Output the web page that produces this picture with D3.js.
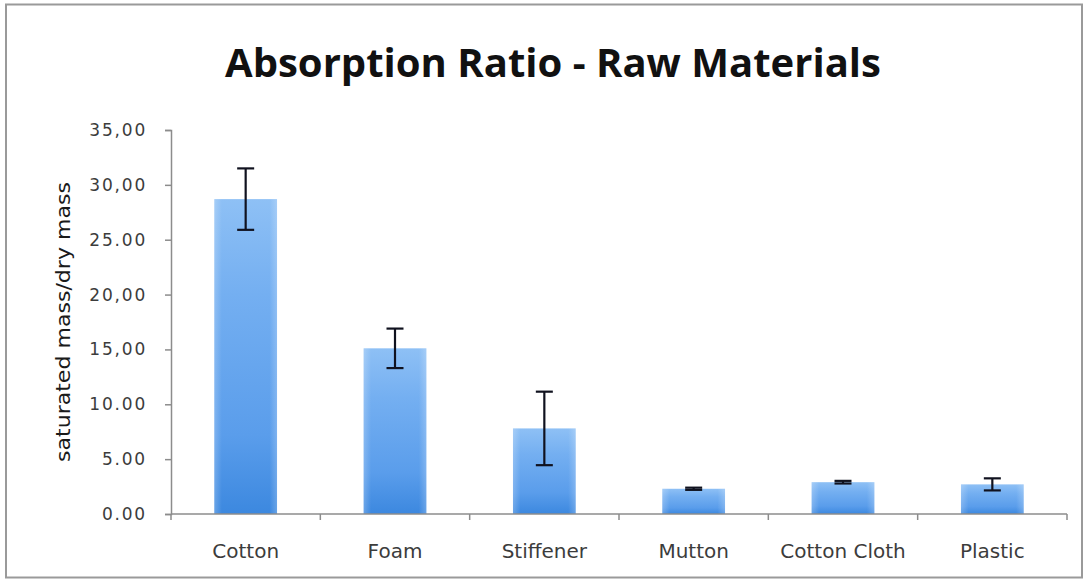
<!DOCTYPE html>
<html><head><meta charset="utf-8">
<script src="https://cdn.jsdelivr.net/npm/d3@7"></script>
<style>html,body{margin:0;padding:0;background:#fff;}svg{display:block;}</style>
</head><body>
<script>
const categories = ["Cotton", "Foam", "Stiffener", "Mutton", "Cotton Cloth", "Plastic"];
const values = [28.7, 15.1, 7.8, 2.3, 2.9, 2.7];
const errors = [2.8, 1.8, 3.35, 0.1, 0.12, 0.55];
const tickValues = [0, 5, 10, 15, 20, 25, 30, 35];
const tickLabels = ["0.00", "5.00", "10.00", "15,00", "20,00", "25.00", "30,00", "35,00"];
const titleText = "Absorption Ratio - Raw Materials";
const yTitle = "saturated mass/dry mass";

const W = 1089, H = 580;
const svg = d3.select("body").append("svg").attr("width", W).attr("height", H);

const defs = svg.append("defs");
const g1 = defs.append("linearGradient").attr("id", "barV").attr("x1", 0).attr("y1", 0).attr("x2", 0).attr("y2", 1);
[[0, "#8ec0f5"], [0.3, "#74aff1"], [0.75, "#5a9deb"], [1, "#3c88df"]].forEach(([o, c]) =>
  g1.append("stop").attr("offset", o).attr("stop-color", c));
const g2 = defs.append("linearGradient").attr("id", "barH").attr("x1", 0).attr("y1", 0).attr("x2", 1).attr("y2", 0);
[[0, 0.22], [0.12, 0.0], [0.88, 0.0], [1, 0.22]].forEach(([o, a]) =>
  g2.append("stop").attr("offset", o).attr("stop-color", "#ffffff").attr("stop-opacity", a));

// outer border
svg.append("rect").attr("x", 6).attr("y", 4.5).attr("width", 1076).attr("height", 573)
  .attr("fill", "#fff").attr("stroke", "#9a9a9a").attr("stroke-width", 2);

const x0 = 171, x1 = 1067, yb = 514, yt = 130;
const x = d3.scaleBand().domain(categories).range([x0, x1]).paddingInner(0.58).paddingOuter(0.29);
const y = d3.scaleLinear().domain([0, 35]).range([yb, yt]);

// title
svg.append("text").attr("x", 553).attr("y", 77).attr("text-anchor", "middle")
  .attr("font-family", "Open Sans, sans-serif").attr("font-weight", 700).attr("font-size", 40)
  .attr("fill", "#111").attr("textLength", 656).attr("lengthAdjust", "spacingAndGlyphs")
  .text(titleText);

// bars
const bars = svg.append("g");
bars.selectAll("rect.b").data(categories).join("rect").attr("class", "b")
  .attr("x", d => x(d)).attr("width", x.bandwidth())
  .attr("y", (d, i) => y(values[i])).attr("height", (d, i) => yb - y(values[i]))
  .attr("fill", "url(#barV)");
bars.selectAll("rect.h").data(categories).join("rect").attr("class", "h")
  .attr("x", d => x(d)).attr("width", x.bandwidth())
  .attr("y", (d, i) => y(values[i])).attr("height", (d, i) => yb - y(values[i]))
  .attr("fill", "url(#barH)");

// y axis
const yAxis = d3.axisLeft(y).tickValues(tickValues).tickSize(6).tickPadding(18)
  .tickFormat((d, i) => tickLabels[i]);
const ya = svg.append("g").attr("transform", `translate(${x0},0)`).call(yAxis);
ya.select(".domain").attr("stroke", "#8c8c8c").attr("stroke-width", 1.5);
ya.selectAll(".tick line").attr("stroke", "#8c8c8c").attr("stroke-width", 1.5);
ya.selectAll(".tick text").attr("font-family", "DejaVu Sans, sans-serif").attr("font-size", 17)
  .attr("letter-spacing", 1.8).attr("fill", "#3c3c3c");

// x axis line and ticks at category boundaries
const step = x.step();
const bounds = d3.range(categories.length + 1).map(i => x0 + i * step);
svg.append("line").attr("x1", x0).attr("x2", x1).attr("y1", yb).attr("y2", yb)
  .attr("stroke", "#8c8c8c").attr("stroke-width", 1.5);
svg.selectAll("line.xt").data(bounds).join("line").attr("class", "xt")
  .attr("x1", d => d).attr("x2", d => d).attr("y1", yb).attr("y2", yb + 6)
  .attr("stroke", "#8c8c8c").attr("stroke-width", 1.5);
svg.selectAll("text.xl").data(categories).join("text").attr("class", "xl")
  .attr("x", d => x(d) + x.bandwidth() / 2).attr("y", 558).attr("text-anchor", "middle")
  .attr("font-family", "DejaVu Sans, sans-serif").attr("font-size", 20).attr("fill", "#3c3c3c")
  .text(d => d);

// error bars
const eb = svg.append("g").attr("stroke", "#10121f").attr("stroke-width", 2.2);
categories.forEach((c, i) => {
  const cx = x(c) + x.bandwidth() / 2;
  const hi = y(values[i] + errors[i]), lo = y(values[i] - errors[i]);
  eb.append("line").attr("x1", cx).attr("x2", cx).attr("y1", hi).attr("y2", lo);
  eb.append("line").attr("x1", cx - 8.5).attr("x2", cx + 8.5).attr("y1", hi).attr("y2", hi);
  eb.append("line").attr("x1", cx - 8.5).attr("x2", cx + 8.5).attr("y1", lo).attr("y2", lo);
});

// y title
svg.append("text").attr("transform", "translate(70,322) rotate(-90)").attr("text-anchor", "middle")
  .attr("font-family", "DejaVu Sans, sans-serif").attr("font-size", 20).attr("fill", "#1a1a1a")
  .attr("textLength", 280).attr("lengthAdjust", "spacingAndGlyphs")
  .text(yTitle);
</script>
</body></html>
